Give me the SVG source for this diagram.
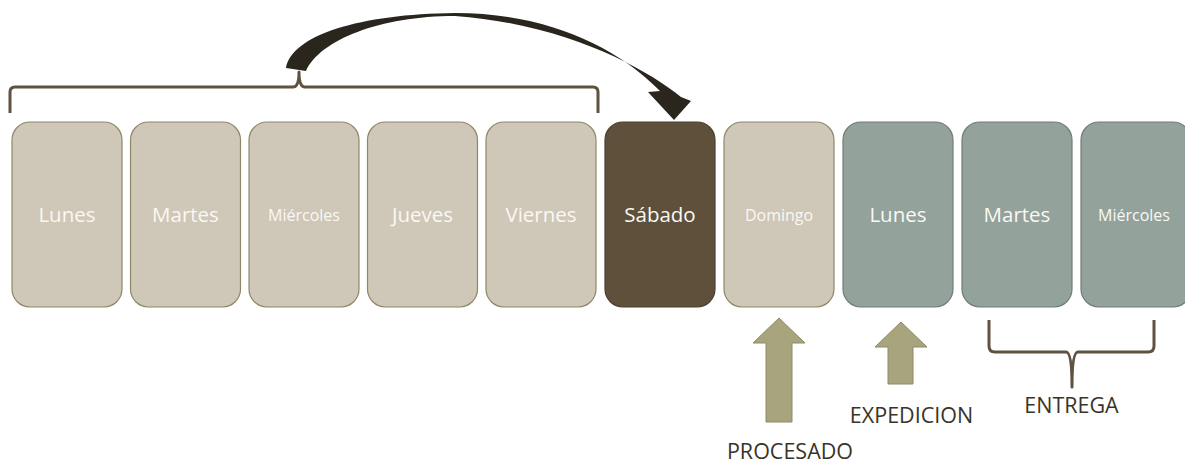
<svg xmlns="http://www.w3.org/2000/svg" width="1185" height="465" viewBox="0 0 1185 465">
<style>
.box{stroke-width:1.2}
.beige{fill:#CFC7B7;stroke:#8E8868}
.dark{fill:#5F503C;stroke:#4B3F2F}
.teal{fill:#93A29A;stroke:#6F7E76}
.t{font-family:"Open Sans","Liberation Sans",sans-serif;fill:#FAF8F4;text-anchor:middle}
.big{font-size:20.5px}
.small{font-size:16px}
.lab{font-family:"Open Sans","Liberation Sans",sans-serif;font-size:21.5px;fill:#3A3428;text-anchor:middle}
.brace{fill:none;stroke:#5F5240;stroke-width:3;stroke-linejoin:round}
.up{fill:#A8A47D;stroke:#8E8A66;stroke-width:1}
</style>
<rect width="1185" height="465" fill="#FFFFFF"/>
<g id="n1"><rect class="box beige" x="12" y="122" width="110" height="185" rx="18"/><text class="t big" x="67" y="221.5">Lunes</text></g>
<g id="n2"><rect class="box beige" x="130.5" y="122" width="110" height="185" rx="18"/><text class="t big" x="185.5" y="221.5">Martes</text></g>
<g id="n3"><rect class="box beige" x="249" y="122" width="110" height="185" rx="18"/><text class="t small" x="304" y="220.5">Miércoles</text></g>
<g id="n4"><rect class="box beige" x="367.5" y="122" width="110" height="185" rx="18"/><text class="t big" x="422.5" y="221.5">Jueves</text></g>
<g id="n5"><rect class="box beige" x="486" y="122" width="110" height="185" rx="18"/><text class="t big" x="541" y="221.5">Viernes</text></g>
<g id="n6"><rect class="box dark" x="605" y="122" width="110" height="185" rx="18"/><text class="t big" x="660" y="221.5">Sábado</text></g>
<g id="n7"><rect class="box beige" x="724" y="122" width="110" height="185" rx="18"/><text class="t small" x="779" y="220.5">Domingo</text></g>
<g id="n8"><rect class="box teal" x="843" y="122" width="110" height="185" rx="18"/><text class="t big" x="898" y="221.5">Lunes</text></g>
<g id="n9"><rect class="box teal" x="962" y="122" width="110" height="185" rx="18"/><text class="t big" x="1017" y="221.5">Martes</text></g>
<g id="n10"><rect class="box teal" x="1081" y="122" width="110" height="185" rx="18"/><text class="t small" x="1134" y="220.5">Miércoles</text></g>
<g id="connectors">
<path class="brace" d="M10,113 L10,92 Q10,87 15,87 L293,87 Q299,87 299,72 Q299,87 305,87 L593,87 Q598,87 598,92 L598,113"/>
<path d="M286,68 C292,35 360,14 455,13 C540,13 612,42 660,91 L648,92 L674,120 L691,101 L681,97 C645,68 565,24 455,16 C380,16 320,40 306,71 Z" fill="#2B261D"/>
<path class="up" d="M779,318 L805,343 L792,343 L792,422 L766,422 L766,343 L753,343 Z"/>
<path class="up" d="M901,322 L927,347 L913,347 L913,384 L888,384 L888,347 L875,347 Z"/>
<path class="brace" d="M989,320 L989,346 Q989,352 995,352 L1066,352 Q1072,352 1072,387 Q1072,352 1078,352 L1148,352 Q1154,352 1154,346 L1154,320"/>
</g>
<g id="labels">
<text class="lab" x="790" y="459">PROCESADO</text>
<text class="lab" x="911.5" y="423">EXPEDICION</text>
<text class="lab" x="1071.5" y="413">ENTREGA</text>
</g>
</svg>
